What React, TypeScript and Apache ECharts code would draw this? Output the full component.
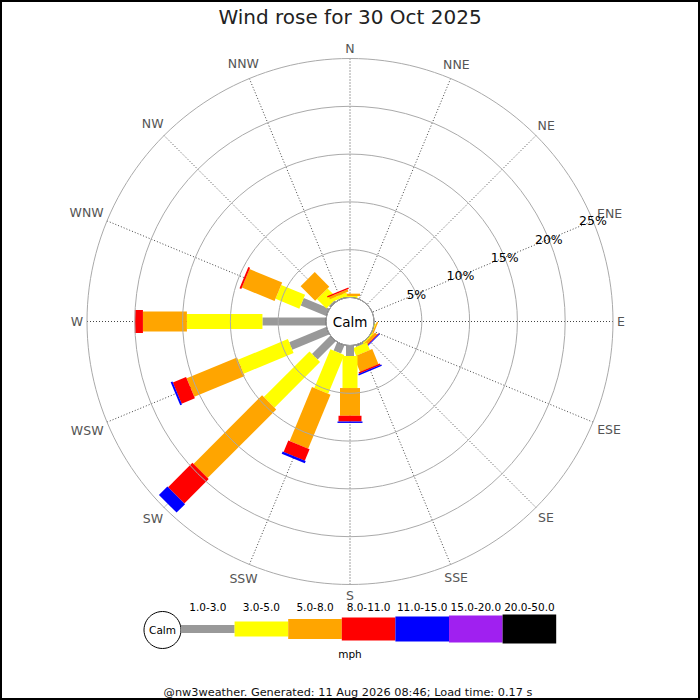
import React, { useEffect, useRef } from 'react';
import * as echarts from 'echarts';

// ---- Data (percent of time) ----
const DIRECTIONS = ['N', 'NNE', 'NE', 'ENE', 'E', 'ESE', 'SE', 'SSE', 'S', 'SSW', 'SW', 'WSW', 'W', 'WNW', 'NW', 'NNW'];
const SPEED_BINS = ['1.0-3.0', '3.0-5.0', '5.0-8.0', '8.0-11.0', '11.0-15.0', '15.0-20.0', '20.0-50.0'];
const BIN_COLORS = ['#999999', '#ffff00', '#ffa500', '#ff0000', '#0000ff', '#a020f0', '#000000'];

const freq1to3 = [0, 0, 0, 0, 0, 0, 0, 0.2, 1.1, 0.95, 2.7, 4.2, 6.65, 2.9, 0.2, 0.1];
const freq3to5 = [0.15, 0, 0, 0, 0, 0.1, 0.15, 0.85, 3.35, 4.4, 6.75, 5.65, 7.9, 2.7, 1.4, 0.35];
const freq5to8 = [0.25, 0, 0, 0, 0, 0.15, 0.3, 1.7, 2.9, 6.1, 10.15, 5.7, 4.6, 3.7, 2.15, 0.25];
const freq8to11 = [0, 0, 0, 0, 0, 0, 0.1, 0.15, 0.6, 1.3, 3.6, 1.5, 0.85, 0.2, 0, 0.15];
const freq11to15 = [0, 0, 0, 0, 0, 0, 0.08, 0.15, 0.15, 0.25, 1.25, 0.2, 0, 0, 0, 0];
const freq15to20 = [0, 0, 0, 0, 0, 0, 0, 0, 0, 0, 0, 0, 0, 0, 0, 0];
const freq20to50 = [0, 0, 0, 0, 0, 0, 0, 0, 0, 0, 0, 0, 0, 0, 0, 0];

const RADIUS_MAX = 25;
const RADIUS_STEP = 5;

const TITLE = 'Wind rose for 30 Oct 2025';
const UNIT = 'mph';
const CALM_LABEL = 'Calm';
const FOOTER = '@nw3weather. Generated: 11 Aug 2026 08:46; Load time: 0.17 s';

// ---- Styles ----
const FONT = 'DejaVu Sans';
const BIN_WIDTHS = [8, 15, 20, 23, 25, 27, 29];
const CENTER: [number, number] = [350, 321.5];
const INNER_R = 24;
const OUTER_R = 263;
const LABEL_FONT = 12.5;
const LABEL_MARGIN = -30; // anchor inside, padding pushes each label out
const LABEL_GAP = 267; // nearest edge of each compass label from centre
const CHAR_W: Record<string, number> = { N: 0.748, E: 0.632, S: 0.635, W: 0.989 };
const AXIS_START = 3; // angle axes start at ENE

export default function App() {
  const ref = useRef<HTMLDivElement>(null);

  useEffect(() => {
    if (!ref.current) return;
    const chart = echarts.init(ref.current, null, { renderer: 'svg' });

    const n = DIRECTIONS.length;
    const sector = 360 / n;
    const toAxis = (i: number) => ((i - AXIS_START + n) % n) * sector;

    const binSeries = [freq1to3, freq3to5, freq5to8, freq8to11, freq11to15, freq15to20, freq20to50];
    const barData: number[][] = [];
    DIRECTIONS.forEach((_, i) => {
      let cum = 0;
      binSeries.forEach((arr, j) => {
        const v = arr[i];
        if (v > 0) {
          barData.push([cum, cum + v, toAxis(i), j]);
          cum += v;
        }
      });
    });

    // category items (axis order starting at ENE) with per-label padding so that
    // each label's box sits just outside the outer ring
    const ra = OUTER_R + LABEL_MARGIN;
    const hh = LABEL_FONT / 2;
    const angleCats = DIRECTIONS.map((_, a) => {
      const k = (a + AXIS_START) % n;
      const name = DIRECTIONS[k];
      const d = (k * sector * Math.PI) / 180;
      const ux = Math.sin(d);
      const uy = -Math.cos(d);
      const hw = (name.split('').reduce((s, c) => s + (CHAR_W[c] || 0.7), 0) * LABEL_FONT) / 2;
      const rd = LABEL_GAP + hw * Math.abs(ux) + hh * Math.abs(uy);
      const alignH = (Math.abs(ux) * ra) / OUTER_R < 0.3 ? 'center' : ux > 0 ? 'left' : 'right';
      const alignV = (Math.abs(uy) * ra) / OUTER_R < 0.3 ? 'middle' : uy > 0 ? 'top' : 'bottom';
      const ax = alignH === 'left' ? hw : alignH === 'right' ? -hw : 0;
      const ay = alignV === 'top' ? hh : alignV === 'bottom' ? -hh : 0;
      const sx = rd * ux - (ra * ux + ax);
      const sy = rd * uy - (ra * uy + ay);
      let pl = 0, pr = 0, pt = 0, pb = 0;
      if (alignH === 'left') pl = sx;
      else if (alignH === 'right') pr = -sx;
      else if (sx > 0) pl = 2 * sx;
      else pr = -2 * sx;
      if (alignV === 'top') pt = sy;
      else if (alignV === 'bottom') pb = -sy;
      else if (sy > 0) pt = 2 * sy;
      else pb = -2 * sy;
      return {
        value: name,
        textStyle: { padding: [Math.max(0, pt), Math.max(0, pr), Math.max(0, pb), Math.max(0, pl)] },
      };
    });

    // legend graphics
    const legendX0 = 181;
    const segLen = 53.6;
    const legendY = 629;
    const graphics: any[] = [
      {
        type: 'rect',
        shape: { x: 1, y: 1, width: 698, height: 698 },
        style: { fill: 'none', stroke: '#000', lineWidth: 2 },
        silent: true,
      },
      {
        type: 'circle',
        shape: { cx: 162.5, cy: 630, r: 18.5 },
        style: { fill: '#fff', stroke: '#000', lineWidth: 1 },
      },
      {
        type: 'text',
        x: 162.5,
        y: 630,
        style: { text: CALM_LABEL, fontFamily: FONT, fontSize: 10.5, fill: '#000', align: 'center', verticalAlign: 'middle' },
      },
      {
        type: 'text',
        x: 350,
        y: 653.5,
        style: { text: UNIT, fontFamily: FONT, fontSize: 10.5, fill: '#000', align: 'center', verticalAlign: 'middle' },
      },
      {
        type: 'text',
        x: 348,
        y: 692.5,
        style: { text: FOOTER, fontFamily: FONT, fontSize: 11.3, fill: '#111', align: 'center', verticalAlign: 'middle' },
      },
    ];
    SPEED_BINS.forEach((lbl, j) => {
      const x = legendX0 + j * segLen;
      const w = BIN_WIDTHS[j];
      graphics.push({
        type: 'rect',
        shape: { x, y: legendY - w / 2, width: segLen, height: w },
        style: { fill: BIN_COLORS[j] },
      });
      graphics.push({
        type: 'text',
        x: x + segLen / 2,
        y: 607,
        style: { text: lbl, fontFamily: FONT, fontSize: 10.5, fill: '#000', align: 'center', verticalAlign: 'middle' },
      });
    });

    chart.setOption({
      animation: false,
      backgroundColor: '#fff',
      title: {
        text: TITLE,
        left: 'center',
        top: 2,
        textStyle: { fontFamily: FONT, fontSize: 20, fontWeight: 'normal', color: '#222' },
      },
      polar: [
        { center: CENTER, radius: [INNER_R, OUTER_R] },
        { center: CENTER, radius: [INNER_R, OUTER_R] },
      ],
      angleAxis: [
        {
          polarIndex: 0,
          type: 'value',
          min: 0,
          max: 360,
          interval: sector,
          startAngle: 22.5,
          clockwise: true,
          axisLine: { show: false },
          axisTick: { show: false },
          axisLabel: { show: false },
          splitLine: { show: true, lineStyle: { color: '#444', width: 1, type: [1, 2] } },
        },
        {
          polarIndex: 1,
          type: 'category',
          data: angleCats,
          boundaryGap: false,
          startAngle: 22.5,
          clockwise: true,
          axisLine: { show: false },
          axisTick: { show: false },
          splitLine: { show: false },
          axisLabel: {
            show: true,
            interval: 0,
            margin: LABEL_MARGIN,
            fontFamily: FONT,
            fontSize: LABEL_FONT,
            color: '#555',
          },
        },
      ],
      radiusAxis: [
        {
          polarIndex: 0,
          type: 'value',
          min: 0,
          max: RADIUS_MAX,
          interval: RADIUS_STEP,
          axisLine: { show: false },
          axisTick: { show: false },
          splitLine: { show: true, lineStyle: { color: '#aaa', width: 1 } },
          axisLabel: {
            show: true,
            margin: 0,
            align: 'center',
            verticalAlign: 'middle',
            fontFamily: FONT,
            fontSize: 12.5,
            color: '#000',
            formatter: (v: number) => (v === 0 ? '' : v + '%'),
          },
          z: 10,
        },
        {
          polarIndex: 1,
          type: 'value',
          min: 0,
          max: RADIUS_MAX,
          show: false,
          axisLine: { show: false },
          axisTick: { show: false },
          axisLabel: { show: false },
          splitLine: { show: false },
        },
      ],
      series: [
        {
          type: 'custom',
          name: 'wind',
          coordinateSystem: 'polar',
          polarIndex: 0,
          clip: false,
          dimensions: ['start', 'end', 'angle', 'bin'],
          encode: { radius: 1, angle: 2 },
          data: barData,
          z: 2,
          renderItem: (params: any, api: any) => {
            const cs = params.coordSys;
            const start = api.value(0);
            const end = api.value(1);
            const ang = api.value(2);
            const bin = api.value(3);
            const tip = api.coord([end, ang]);
            const dx = tip[0] - cs.cx;
            const dy = tip[1] - cs.cy;
            const len = Math.hypot(dx, dy) || 1;
            const ux = dx / len;
            const uy = dy / len;
            const nx = -uy;
            const ny = ux;
            const base = start === 0 ? [cs.cx, cs.cy] : api.coord([start, ang]);
            const hw = BIN_WIDTHS[bin] / 2;
            return {
              type: 'polygon',
              shape: {
                points: [
                  [base[0] + nx * hw, base[1] + ny * hw],
                  [tip[0] + nx * hw, tip[1] + ny * hw],
                  [tip[0] - nx * hw, tip[1] - ny * hw],
                  [base[0] - nx * hw, base[1] - ny * hw],
                ],
              },
              style: { fill: BIN_COLORS[bin] },
            };
          },
        },
        {
          type: 'custom',
          name: 'calm',
          coordinateSystem: 'polar',
          polarIndex: 0,
          clip: false,
          data: [[0, 0]],
          z: 5,
          renderItem: (params: any) => {
            const cs = params.coordSys;
            return {
              type: 'group',
              children: [
                {
                  type: 'circle',
                  shape: { cx: cs.cx, cy: cs.cy, r: cs.r0 },
                  style: { fill: '#fff', stroke: '#333', lineWidth: 1 },
                },
                {
                  type: 'text',
                  x: cs.cx,
                  y: cs.cy,
                  style: { text: CALM_LABEL, fontFamily: FONT, fontSize: 13.5, fill: '#000', align: 'center', verticalAlign: 'middle' },
                },
              ],
            };
          },
        },
      ],
      graphic: graphics,
    });

    return () => chart.dispose();
  }, []);

  return <div ref={ref} style={{ position: 'absolute', left: 0, top: 0, width: 700, height: 700 }} />;
}
